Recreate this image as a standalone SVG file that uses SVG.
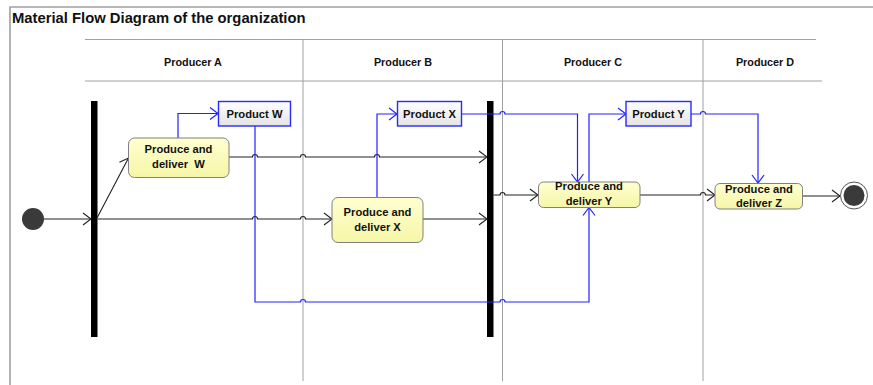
<svg xmlns="http://www.w3.org/2000/svg" width="873" height="385" viewBox="0 0 873 385">
<style>
text{font-family:"Liberation Sans",Arial,sans-serif;font-weight:bold;fill:#111;}
.hdr{font-size:10.8px;text-anchor:middle;}
.lbl{font-size:11.2px;text-anchor:middle;}
.lane{stroke:#a0a0a0;stroke-width:1;fill:none;}
.blk{stroke:#222;stroke-width:1.1;fill:none;}
.blu{stroke:#2222ff;stroke-width:1.2;fill:none;}
.act{fill:url(#yel);stroke:#808080;stroke-width:1;}
.obj{fill:url(#gry);stroke:#2a2aff;stroke-width:1.4;}
</style>
<defs>
<linearGradient id="yel" x1="0" y1="0" x2="0" y2="1"><stop offset="0" stop-color="#ffffd0"/><stop offset="1" stop-color="#f6f6a8"/></linearGradient>
<linearGradient id="gry" x1="0" y1="0" x2="0" y2="1"><stop offset="0" stop-color="#ffffff"/><stop offset="1" stop-color="#e4e4e4"/></linearGradient>
<marker id="ab" markerUnits="userSpaceOnUse" markerWidth="12" markerHeight="14" refX="10" refY="7" orient="auto" viewBox="0 0 12 14"><path d="M2,1 L10,7 L2,13" fill="none" stroke="#222" stroke-width="1.1"/></marker>
<marker id="au" markerUnits="userSpaceOnUse" markerWidth="12" markerHeight="14" refX="10" refY="7" orient="auto" viewBox="0 0 12 14"><path d="M2,1 L10,7 L2,13" fill="none" stroke="#2222ff" stroke-width="1.2"/></marker>
</defs>
<rect width="873" height="385" fill="#fff"/>
<g id="frame">
<path d="M10,385 V7 H873" fill="none" stroke="#a0a0a0" stroke-width="1.6"/>
<text x="12" y="23" style="font-size:14.8px">Material Flow Diagram of the organization</text>
</g>
<g id="lanes">
<path class="lane" d="M85,39.5 H816 M85,81 H822 M303,39 V381 M502.5,39 V381 M703,39 V381"/>
<text class="hdr" x="193" y="65.5">Producer A</text>
<text class="hdr" x="403" y="65.5">Producer B</text>
<text class="hdr" x="593" y="65.5">Producer C</text>
<text class="hdr" x="765" y="65.5">Producer D</text>
</g>
<g id="start"><circle cx="33" cy="219" r="11" fill="#3a3a3a"/></g>
<g id="fork1"><rect x="91" y="101" width="6.5" height="236" fill="#000"/></g>
<g id="join2"><rect x="487" y="101" width="6.5" height="236" fill="#000"/></g>
<g id="connectors">
<path class="blk" d="M44,219 H91" marker-end="url(#ab)"/>
<path class="blk" d="M97,218 L128.5,158" marker-end="url(#ab)"/>
<path class="blk" d="M229,157 H252.5 A2.5,2.5 0 0 1 257.5,157 H300.5 A2.5,2.5 0 0 1 305.5,157 H374.5 A2.5,2.5 0 0 1 379.5,157 H487" marker-end="url(#ab)"/>
<path class="blk" d="M97.5,219 H252.5 A2.5,2.5 0 0 1 257.5,219 H300.5 A2.5,2.5 0 0 1 305.5,219 H332" marker-end="url(#ab)"/>
<path class="blk" d="M423,219 H487" marker-end="url(#ab)"/>
<path class="blk" d="M493.5,195 H500 A2.5,2.5 0 0 1 505,195 H538" marker-end="url(#ab)"/>
<path class="blk" d="M640,195 H700.5 A2.5,2.5 0 0 1 705.5,195 H715" marker-end="url(#ab)"/>
<path class="blk" d="M803,196 H840" marker-end="url(#ab)"/>
<path class="blu" d="M178,138 V113.5 H218" marker-end="url(#au)"/>
<path class="blu" d="M377,197.5 V114 H397" marker-end="url(#au)"/>
<path class="blu" d="M462,114 H500 A2.5,2.5 0 0 1 505,114 H577.5 V182" marker-end="url(#au)"/>
<path class="blu" d="M589,182 V114 H626" marker-end="url(#au)"/>
<path class="blu" d="M691,114 H700.5 A2.5,2.5 0 0 1 705.5,114 H758 V183" marker-end="url(#au)"/>
<path class="blu" d="M255,126 V302 H300.5 A2.5,2.5 0 0 1 305.5,302 H500 A2.5,2.5 0 0 1 505,302 H589 V207.5" marker-end="url(#au)"/>
</g>
<g id="produceW"><rect class="act" x="128.5" y="138" width="100.5" height="39.5" rx="6"/><text class="lbl" x="178.5" y="153">Produce and</text><text class="lbl" x="178.5" y="168" style="white-space:pre">deliver  W</text></g>
<g id="productW"><rect class="obj" x="218.5" y="101.5" width="72" height="24.5"/><text class="lbl" x="254.5" y="118">Product W</text></g>
<g id="produceX"><rect class="act" x="332" y="197.5" width="91" height="45" rx="6"/><text class="lbl" x="377.5" y="216">Produce and</text><text class="lbl" x="377.5" y="230.5">deliver X</text></g>
<g id="productX"><rect class="obj" x="397.5" y="101.5" width="64" height="24.5"/><text class="lbl" x="429.5" y="118">Product X</text></g>
<g id="produceY"><rect class="act" x="538.5" y="182" width="101.5" height="25.5" rx="5"/><text class="lbl" x="589" y="190">Produce and</text><text class="lbl" x="589" y="205">deliver Y</text></g>
<g id="productY"><rect class="obj" x="626" y="101.5" width="65" height="24.5"/><text class="lbl" x="658.5" y="118">Product Y</text></g>
<g id="produceZ"><rect class="act" x="715" y="183.5" width="87.5" height="25.5" rx="5"/><text class="lbl" x="759" y="192.5">Produce and</text><text class="lbl" x="759" y="207">deliver Z</text></g>
<g id="end"><circle cx="854" cy="195.5" r="13.5" fill="#fff" stroke="#555" stroke-width="1"/><circle cx="854" cy="195.5" r="10.5" fill="#3a3a3a"/></g>
</svg>
